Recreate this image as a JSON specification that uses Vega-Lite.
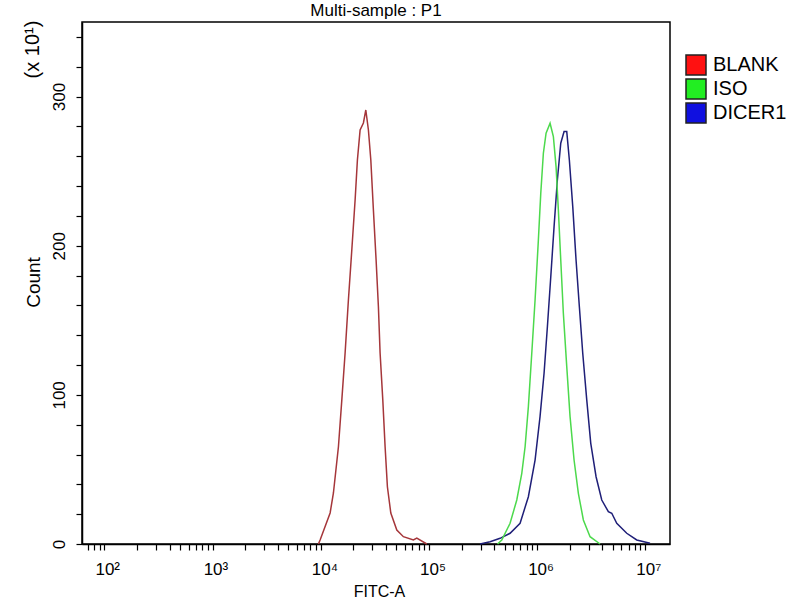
{
  "$schema": "https://vega.github.io/schema/vega-lite/v6.json",
  "description": "Flow cytometry histogram overlay, FITC-A",
  "autosize": {"type": "none"},
  "padding": {"left": 82, "top": 22, "right": 130, "bottom": 56},
  "width": 588,
  "height": 522,
  "title": {
    "text": "Multi-sample : P1",
    "anchor": "middle",
    "frame": "group",
    "baseline": "alphabetic",
    "offset": 7,
    "dy": 20
  },
  "data": {
    "values": [
      {"sample": "BLANK", "fitc": 9500, "count": 0},
      {"sample": "BLANK", "fitc": 9852, "count": 2.7},
      {"sample": "BLANK", "fitc": 12190, "count": 20.8},
      {"sample": "BLANK", "fitc": 13080, "count": 34.2},
      {"sample": "BLANK", "fitc": 14550, "count": 65.2},
      {"sample": "BLANK", "fitc": 15640, "count": 96.6},
      {"sample": "BLANK", "fitc": 16770, "count": 128.1},
      {"sample": "BLANK", "fitc": 17990, "count": 163.6},
      {"sample": "BLANK", "fitc": 19340, "count": 197.1},
      {"sample": "BLANK", "fitc": 20750, "count": 230.7},
      {"sample": "BLANK", "fitc": 21790, "count": 257.5},
      {"sample": "BLANK", "fitc": 23080, "count": 277.6},
      {"sample": "BLANK", "fitc": 24750, "count": 282.3},
      {"sample": "BLANK", "fitc": 26060, "count": 291},
      {"sample": "BLANK", "fitc": 27540, "count": 277.6},
      {"sample": "BLANK", "fitc": 28990, "count": 257.5},
      {"sample": "BLANK", "fitc": 30630, "count": 224},
      {"sample": "BLANK", "fitc": 32440, "count": 190.4},
      {"sample": "BLANK", "fitc": 34070, "count": 159.1},
      {"sample": "BLANK", "fitc": 35320, "count": 128.1},
      {"sample": "BLANK", "fitc": 37410, "count": 96.6},
      {"sample": "BLANK", "fitc": 39290, "count": 65.2},
      {"sample": "BLANK", "fitc": 41260, "count": 38.4},
      {"sample": "BLANK", "fitc": 44360, "count": 20.8},
      {"sample": "BLANK", "fitc": 50400, "count": 9.4},
      {"sample": "BLANK", "fitc": 58000, "count": 4.9},
      {"sample": "BLANK", "fitc": 71750, "count": 2.7},
      {"sample": "BLANK", "fitc": 77140, "count": 4.0},
      {"sample": "BLANK", "fitc": 95440, "count": 0},
      {"sample": "DICER1", "fitc": 296700, "count": 0},
      {"sample": "DICER1", "fitc": 367000, "count": 1.5},
      {"sample": "DICER1", "fitc": 454100, "count": 3.8},
      {"sample": "DICER1", "fitc": 561700, "count": 7.2},
      {"sample": "DICER1", "fitc": 695000, "count": 13.9},
      {"sample": "DICER1", "fitc": 829300, "count": 31.7},
      {"sample": "DICER1", "fitc": 956300, "count": 56.3},
      {"sample": "DICER1", "fitc": 1063000, "count": 85.4},
      {"sample": "DICER1", "fitc": 1158000, "count": 114.5},
      {"sample": "DICER1", "fitc": 1243000, "count": 145.7},
      {"sample": "DICER1", "fitc": 1336000, "count": 179.2},
      {"sample": "DICER1", "fitc": 1433000, "count": 212.8},
      {"sample": "DICER1", "fitc": 1537000, "count": 244.1},
      {"sample": "DICER1", "fitc": 1652000, "count": 268.7},
      {"sample": "DICER1", "fitc": 1773000, "count": 276.5},
      {"sample": "DICER1", "fitc": 1877000, "count": 276.5},
      {"sample": "DICER1", "fitc": 1984000, "count": 257.5},
      {"sample": "DICER1", "fitc": 2133000, "count": 226.2},
      {"sample": "DICER1", "fitc": 2288000, "count": 190.4},
      {"sample": "DICER1", "fitc": 2455000, "count": 159.1},
      {"sample": "DICER1", "fitc": 2638000, "count": 127.9},
      {"sample": "DICER1", "fitc": 2873000, "count": 96.6},
      {"sample": "DICER1", "fitc": 3129000, "count": 67.5},
      {"sample": "DICER1", "fitc": 3503000, "count": 45.1},
      {"sample": "DICER1", "fitc": 3954000, "count": 29.5},
      {"sample": "DICER1", "fitc": 4550000, "count": 21.7},
      {"sample": "DICER1", "fitc": 4893000, "count": 20.6},
      {"sample": "DICER1", "fitc": 5441000, "count": 13.9},
      {"sample": "DICER1", "fitc": 6731000, "count": 7.2},
      {"sample": "DICER1", "fitc": 8326000, "count": 2.7},
      {"sample": "DICER1", "fitc": 11050000, "count": 0.5},
      {"sample": "ISO", "fitc": 430000, "count": 0},
      {"sample": "ISO", "fitc": 470800, "count": 2.7},
      {"sample": "ISO", "fitc": 561700, "count": 13.9},
      {"sample": "ISO", "fitc": 647900, "count": 29.5},
      {"sample": "ISO", "fitc": 720800, "count": 47.4},
      {"sample": "ISO", "fitc": 773400, "count": 65.2},
      {"sample": "ISO", "fitc": 829300, "count": 92.1},
      {"sample": "ISO", "fitc": 891500, "count": 127.9},
      {"sample": "ISO", "fitc": 956300, "count": 163.6},
      {"sample": "ISO", "fitc": 1025900, "count": 203.8},
      {"sample": "ISO", "fitc": 1079600, "count": 235.1},
      {"sample": "ISO", "fitc": 1141000, "count": 262},
      {"sample": "ISO", "fitc": 1208600, "count": 275.4},
      {"sample": "ISO", "fitc": 1316000, "count": 282.1},
      {"sample": "ISO", "fitc": 1412000, "count": 273.1},
      {"sample": "ISO", "fitc": 1495000, "count": 253},
      {"sample": "ISO", "fitc": 1570000, "count": 224},
      {"sample": "ISO", "fitc": 1652000, "count": 190.4},
      {"sample": "ISO", "fitc": 1746000, "count": 154.7},
      {"sample": "ISO", "fitc": 1877000, "count": 118.9},
      {"sample": "ISO", "fitc": 2014000, "count": 85.4},
      {"sample": "ISO", "fitc": 2193000, "count": 56.3},
      {"sample": "ISO", "fitc": 2403000, "count": 34},
      {"sample": "ISO", "fitc": 2673000, "count": 16.1},
      {"sample": "ISO", "fitc": 3083000, "count": 4.9},
      {"sample": "ISO", "fitc": 3814000, "count": 0}
    ]
  },
  "layer": [
    {
      "mark": {"type": "line", "strokeWidth": 1.5},
      "encoding": {
        "x": {
          "field": "fitc",
          "type": "quantitative",
          "scale": {"type": "log", "domain": [62, 16900000], "nice": false},
          "axis": {
            "title": "FITC-A",
            "titleX": 297,
            "titleY": 52,
            "titleBaseline": "alphabetic",
            "titleFontSize": 16,
            "values": [70, 80, 90, 100, 200, 300, 400, 500, 600, 700, 800, 900, 1000, 2000, 3000, 4000, 5000, 6000, 7000, 8000, 9000, 10000, 20000, 30000, 40000, 50000, 60000, 70000, 80000, 90000, 100000, 200000, 300000, 400000, 500000, 600000, 700000, 800000, 900000, 1000000, 2000000, 3000000, 4000000, 5000000, 6000000, 7000000, 8000000, 9000000, 10000000],
            "labelExpr": "datum.value == 100 ? '10²' : datum.value == 1000 ? '10³' : datum.value == 10000 ? '10⁴' : datum.value == 100000 ? '10⁵' : datum.value == 1000000 ? '10⁶' : datum.value == 10000000 ? '10⁷' : ''",
            "labelAlign": "left",
            "labelOffset": -9.5,
            "labelBaseline": "alphabetic",
            "labelPadding": 24,
            "labelFlush": false,
            "labelOverlap": false,
            "tickSize": 6
          }
        },
        "y": {
          "field": "count",
          "type": "quantitative",
          "scale": {"domain": [0, 350], "nice": false},
          "axis": {
            "title": "Count",
            "titleX": -43,
            "titleY": 260,
            "titleAngle": -90,
            "titleAlign": "center",
            "titleBaseline": "alphabetic",
            "titleFontSize": 19,
            "values": [0, 20, 40, 60, 80, 100, 120, 140, 160, 180, 200, 220, 240, 260, 280, 300, 320, 340],
            "labelExpr": "datum.value % 100 == 0 ? datum.label : ''",
            "labelAngle": -90,
            "labelAlign": "center",
            "labelBaseline": "alphabetic",
            "labelPadding": 12,
            "labelOverlap": false,
            "tickSize": 6
          }
        },
        "stroke": {
          "field": "sample",
          "type": "nominal",
          "scale": {"domain": ["DICER1", "ISO", "BLANK"], "range": ["#1f1f78", "#4cd94c", "#a5363a"]},
          "legend": null
        }
      }
    },
    {
      "mark": {"type": "point", "filled": true, "shape": "square", "opacity": 0, "size": 1},
      "encoding": {
        "x": {"field": "fitc", "type": "quantitative"},
        "y": {
          "field": "count",
          "type": "quantitative",
          "scale": {"domain": [0, 350], "nice": false},
          "axis": {
            "orient": "left",
            "title": "(x 10¹)",
            "titleX": -43.5,
            "titleY": 27,
            "titleAngle": -90,
            "titleAlign": "center",
            "titleBaseline": "alphabetic",
            "titleFontSize": 20,
            "labels": false,
            "ticks": false,
            "domain": false,
            "grid": false
          }
        },
        "fill": {
          "field": "sample",
          "type": "nominal",
          "scale": {"domain": ["BLANK", "ISO", "DICER1"], "range": ["#ff1111", "#22ee22", "#1010e0"]},
          "legend": {
            "title": null,
            "orient": "none",
            "legendX": 603,
            "legendY": 32,
            "padding": 0,
            "symbolType": "square",
            "symbolSize": 400,
            "symbolOpacity": 1,
            "symbolStrokeColor": "#222222",
            "symbolStrokeWidth": 1.5,
            "labelFontSize": 20,
            "labelOffset": 6,
            "rowPadding": -2
          }
        }
      }
    }
  ],
  "resolve": {"axis": {"y": "independent"}},
  "config": {
    "font": "Liberation Sans",
    "view": {"stroke": "black", "strokeWidth": 1.5},
    "title": {"font": "Liberation Sans", "fontSize": 17, "fontWeight": "normal", "color": "black"},
    "axis": {
      "grid": false,
      "domainColor": "black",
      "domainWidth": 1.5,
      "tickColor": "black",
      "tickWidth": 1.2,
      "labelFont": "Liberation Sans",
      "labelFontSize": 17,
      "labelColor": "black",
      "titleFont": "Liberation Sans",
      "titleFontWeight": "normal",
      "titleColor": "black"
    },
    "legend": {"labelFont": "Liberation Sans", "labelColor": "black"}
  }
}
